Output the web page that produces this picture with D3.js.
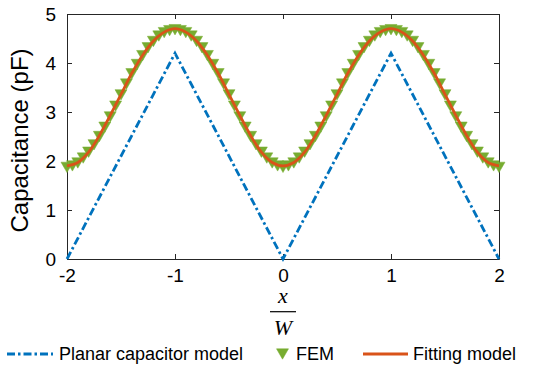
<!DOCTYPE html>
<html>
<head>
<meta charset="utf-8">
<script src="https://cdn.jsdelivr.net/npm/d3@7"></script>
<style>
  html, body { margin: 0; padding: 0; background: #fff; }
  svg { display: block; font-family: "Liberation Sans", Arial, sans-serif; }
</style>
</head>
<body>
<svg id="chart" width="537" height="368"></svg>
<script>
// ---- data ----
const planarX = [-2, -1, 0, 1, 2];
const planarY = [0, 4.2, 0, 4.2, 0];

const fitX = d3.range(41).map(i => -2 + i * 0.1);
const fitY = [
  1.90, 1.97, 2.18, 2.52, 2.93, 3.36, 3.79, 4.16, 4.45, 4.63, 4.70,
  4.63, 4.45, 4.16, 3.79, 3.36, 2.93, 2.52, 2.18, 1.97, 1.90,
  1.97, 2.18, 2.52, 2.93, 3.36, 3.79, 4.16, 4.45, 4.63, 4.70,
  4.63, 4.45, 4.16, 3.79, 3.36, 2.93, 2.52, 2.18, 1.97, 1.90
];

const femX = d3.range(81).map(i => -2 + i * 0.05);
const femY = [
  1.87, 1.90, 1.96, 2.06, 2.18, 2.33, 2.50, 2.69, 2.90, 3.12, 3.35,
  3.57, 3.78, 3.97, 4.15, 4.31, 4.44, 4.55, 4.62, 4.66, 4.68,
  4.66, 4.62, 4.55, 4.44, 4.31, 4.15, 3.97, 3.78, 3.57, 3.35,
  3.12, 2.90, 2.69, 2.50, 2.33, 2.18, 2.06, 1.96, 1.90, 1.87,
  1.90, 1.96, 2.06, 2.18, 2.33, 2.50, 2.69, 2.90, 3.12, 3.35,
  3.57, 3.78, 3.97, 4.15, 4.31, 4.44, 4.55, 4.62, 4.66, 4.68,
  4.66, 4.62, 4.55, 4.44, 4.31, 4.15, 3.97, 3.78, 3.57, 3.35,
  3.12, 2.90, 2.69, 2.50, 2.33, 2.18, 2.06, 1.96, 1.90, 1.87
];

const xTicks = [-2, -1, 0, 1, 2];
const yTicks = [0, 1, 2, 3, 4, 5];
const seriesNames = ["Planar capacitor model", "FEM", "Fitting model"];

// ---- layout ----
const W = 537, H = 368;
const m = { left: 67, right: 38, top: 14, bottom: 109 };
const pw = W - m.left - m.right, ph = H - m.top - m.bottom;
const BLUE = "#0072BD", GREEN = "#77AC30", ORANGE = "#D95319", AX = "#262626";
const DASH = "8,3,2.5,3";

const svg = d3.select("#chart");
const g = svg.append("g").attr("transform", `translate(${m.left},${m.top})`);

const x = d3.scaleLinear().domain([-2, 2]).range([0, pw]);
const y = d3.scaleLinear().domain([0, 5]).range([ph, 0]);

svg.append("defs").append("clipPath").attr("id", "clip")
  .append("rect").attr("x", -8).attr("y", -8).attr("width", pw + 16).attr("height", ph + 16);

// axes
function styleAxis(sel) {
  sel.selectAll("path").attr("stroke", AX).attr("stroke-width", 1);
  sel.selectAll("line").attr("stroke", AX).attr("stroke-width", 1);
  sel.selectAll("text").attr("fill", "#000").style("font-family", '"Liberation Sans", Arial, sans-serif');
}
const gx = g.append("g").attr("transform", `translate(0,${ph})`)
  .call(d3.axisBottom(x).tickValues(xTicks).tickSize(-5).tickSizeOuter(0).tickPadding(10).tickFormat(d => String(d)));
gx.selectAll("text").style("font-size", "19px");
styleAxis(gx);
const gxt = g.append("g")
  .call(d3.axisTop(x).tickValues(xTicks).tickSize(-5).tickSizeOuter(0).tickFormat(""));
styleAxis(gxt);
const gy = g.append("g")
  .call(d3.axisLeft(y).tickValues(yTicks).tickSize(-5).tickSizeOuter(0).tickPadding(11).tickFormat(d => String(d)));
gy.selectAll("text").style("font-size", "19px");
styleAxis(gy);
const gyr = g.append("g").attr("transform", `translate(${pw},0)`)
  .call(d3.axisRight(y).tickValues(yTicks).tickSize(-5).tickSizeOuter(0).tickFormat(""));
styleAxis(gyr);

// planar
const plot = g.append("g").attr("clip-path", "url(#clip)");
plot.append("path")
  .datum(planarX.map((d, i) => [d, planarY[i]]))
  .attr("fill", "none").attr("stroke", BLUE).attr("stroke-width", 2.8)
  .attr("stroke-dasharray", DASH)
  .attr("d", d3.line().x(d => x(d[0])).y(d => y(d[1])));

// FEM markers
const tri = "M-6,-5.2L6,-5.2L0,5.2Z";
plot.selectAll("path.fem").data(femX.map((d, i) => [d, femY[i]])).join("path")
  .attr("class", "fem")
  .attr("d", tri)
  .attr("transform", d => `translate(${x(d[0])},${y(d[1])})`)
  .attr("fill", GREEN).attr("stroke", GREEN).attr("stroke-width", 0.5);

// fitting
plot.append("path")
  .datum(fitX.map((d, i) => [d, fitY[i]]))
  .attr("fill", "none").attr("stroke", ORANGE).attr("stroke-width", 2.8)
  .attr("d", d3.line().curve(d3.curveCatmullRom).x(d => x(d[0])).y(d => y(d[1])));

// y label
svg.append("text")
  .attr("transform", `translate(28,${m.top + ph / 2 + 4}) rotate(-90)`)
  .attr("text-anchor", "middle")
  .style("font-size", "24px").attr("fill", "#000")
  .text("Capacitance (pF)");

// x label fraction
const cx = m.left + pw / 2;
svg.append("text").attr("x", cx).attr("y", 303)
  .attr("text-anchor", "middle")
  .style("font-family", '"Liberation Serif", "DejaVu Serif", serif')
  .style("font-style", "italic").style("font-size", "22px").text("x");
svg.append("line").attr("x1", cx - 13).attr("x2", cx + 13).attr("y1", 311.7).attr("y2", 311.7)
  .attr("stroke", "#000").attr("stroke-width", 1.2);
svg.append("text").attr("x", cx).attr("y", 335)
  .attr("text-anchor", "middle")
  .style("font-family", '"Liberation Serif", "DejaVu Serif", serif')
  .style("font-style", "italic").style("font-size", "22px").text("W");

// legend
const ly = 354, lt = 359.5;
const leg = svg.append("g");
leg.append("line").attr("x1", 7).attr("x2", 53).attr("y1", ly).attr("y2", ly)
  .attr("stroke", BLUE).attr("stroke-width", 2.8).attr("stroke-dasharray", DASH);
leg.append("text").attr("x", 59).attr("y", lt).style("font-size", "18px").text(seriesNames[0]);
leg.append("path").attr("d", tri).attr("transform", `translate(282.5,${ly})`)
  .attr("fill", GREEN).attr("stroke", GREEN).attr("stroke-width", 0.5);
leg.append("text").attr("x", 296).attr("y", lt).style("font-size", "18px").text(seriesNames[1]);
leg.append("line").attr("x1", 363).attr("x2", 408).attr("y1", ly).attr("y2", ly)
  .attr("stroke", ORANGE).attr("stroke-width", 2.8);
leg.append("text").attr("x", 413).attr("y", lt).style("font-size", "18px").text(seriesNames[2]);
</script>
</body>
</html>
